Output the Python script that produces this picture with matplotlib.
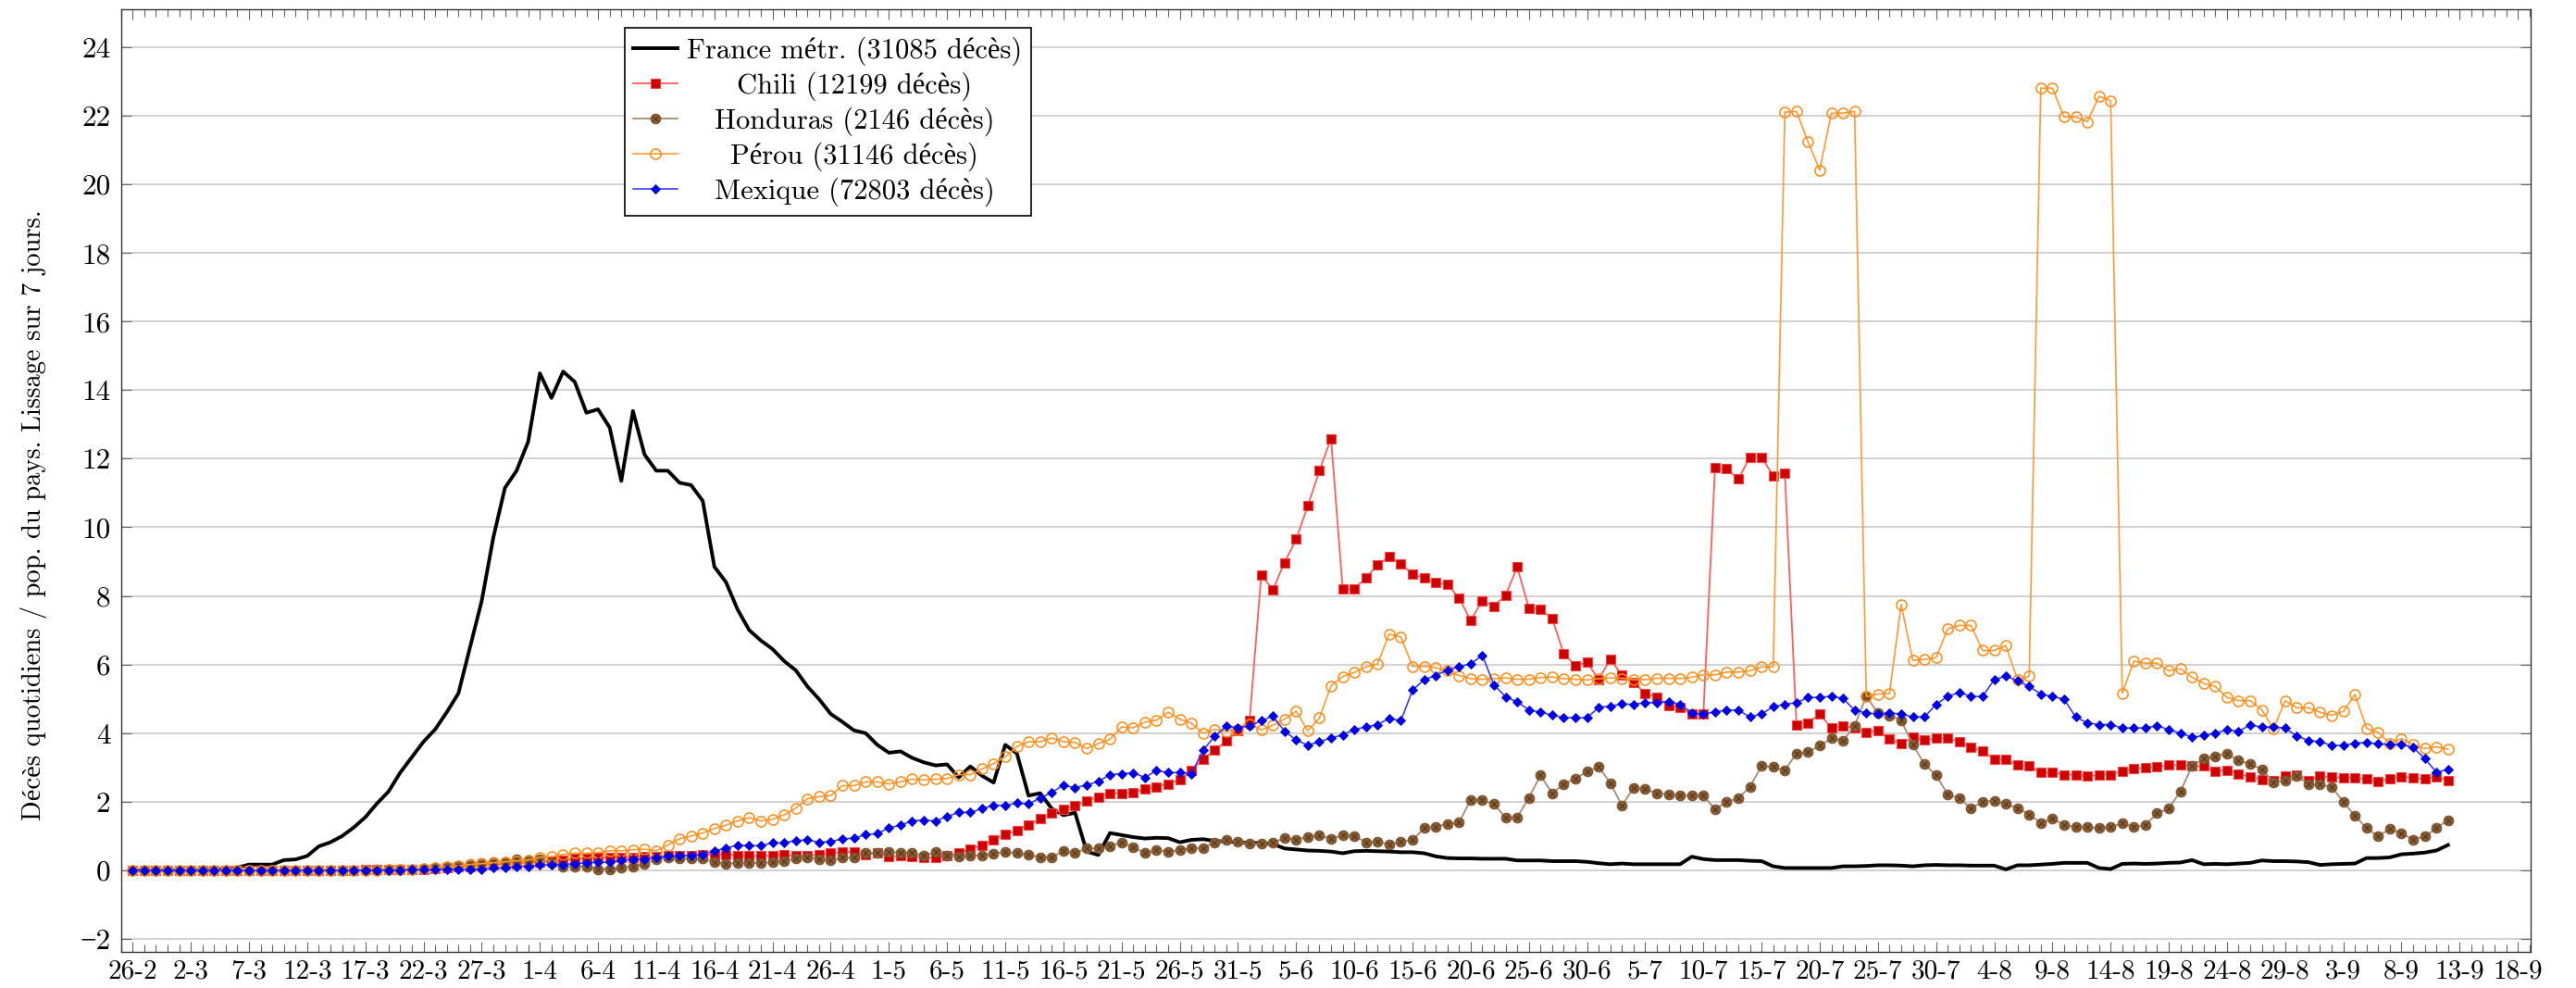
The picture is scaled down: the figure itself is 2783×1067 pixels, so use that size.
import numpy as np
import matplotlib
matplotlib.use("Agg")
import matplotlib.pyplot as plt
from matplotlib.ticker import MultipleLocator
from matplotlib.legend_handler import HandlerTuple

plt.rcParams['font.family'] = ['cmr10', 'Liberation Serif', 'DejaVu Serif']
plt.rcParams['axes.unicode_minus'] = True

# ---------------- data (one value per day, from 26-2) ----------------
france = [0, 0, 0, 0, 0, 0, 0.01, 0.02, 0.03, 0.08,
          0.17, 0.17, 0.17, 0.3, 0.32, 0.42, 0.7, 0.82, 1.0, 1.25,
          1.55, 1.95, 2.3, 2.85, 3.3, 3.75, 4.11, 4.61, 5.16, 6.5,
          7.85, 9.7, 11.15, 11.65, 12.5, 14.49, 13.77, 14.54, 14.24, 13.34,
          13.44, 12.91, 11.35, 13.39, 12.12, 11.65, 11.65, 11.3, 11.23, 10.77,
          8.85, 8.4, 7.6, 7.0, 6.7, 6.45, 6.1, 5.83, 5.36, 4.99,
          4.56, 4.33, 4.08, 4.0, 3.66, 3.43, 3.47, 3.28, 3.15, 3.06,
          3.09, 2.71, 3.03, 2.76, 2.56, 3.66, 3.41, 2.18, 2.25, 1.8,
          1.61, 1.68, 0.55, 0.45, 1.09, 1.03, 0.97, 0.93, 0.95, 0.94,
          0.82, 0.89, 0.91, 0.86, 0.84, 0.83, 0.8, 0.8, 0.77, 0.64,
          0.61, 0.58, 0.57, 0.55, 0.5, 0.56, 0.57, 0.56, 0.55, 0.53,
          0.53, 0.5, 0.41, 0.36, 0.35, 0.35, 0.34, 0.34, 0.34, 0.29,
          0.29, 0.29, 0.27, 0.27, 0.27, 0.25, 0.21, 0.18, 0.2, 0.18,
          0.18, 0.18, 0.18, 0.18, 0.4, 0.33, 0.3, 0.3, 0.3, 0.28,
          0.27, 0.12, 0.07, 0.07, 0.07, 0.07, 0.07, 0.12, 0.12, 0.13,
          0.15, 0.15, 0.14, 0.12, 0.15, 0.16, 0.15, 0.15, 0.14, 0.14,
          0.14, 0.03, 0.15, 0.15, 0.17, 0.19, 0.22, 0.22, 0.22, 0.07,
          0.04, 0.19, 0.2, 0.19, 0.2, 0.22, 0.23, 0.3, 0.18, 0.19,
          0.18, 0.2, 0.22, 0.29, 0.27, 0.27, 0.26, 0.24, 0.16, 0.18,
          0.19, 0.2, 0.36, 0.36, 0.38, 0.47, 0.49, 0.52, 0.58, 0.74]

chili = [0, 0, 0, 0, 0, 0, 0, 0, 0, 0,
         0, 0, 0, 0, 0, 0, 0, 0, 0.01, 0.01,
         0.02, 0.02, 0.02, 0.03, 0.03, 0.04, 0.05, 0.07, 0.1, 0.12,
         0.14, 0.16, 0.18, 0.2, 0.22, 0.25, 0.28, 0.3, 0.35, 0.35,
         0.37, 0.37, 0.38, 0.38, 0.4, 0.4, 0.42, 0.42, 0.44, 0.45,
         0.47, 0.47, 0.44, 0.42, 0.42, 0.44, 0.46, 0.42, 0.44, 0.46,
         0.5, 0.54, 0.54, 0.47, 0.5, 0.4, 0.42, 0.4, 0.37, 0.37,
         0.44, 0.5, 0.62, 0.74, 0.9, 1.04, 1.17, 1.32, 1.5, 1.66,
         1.77, 1.89, 2.03, 2.14, 2.25, 2.25, 2.26, 2.38, 2.44, 2.52,
         2.64, 2.91, 3.25, 3.5, 3.77, 4.07, 4.38, 8.61, 8.18, 8.97,
         9.65, 10.62, 11.65, 12.59, 8.21, 8.21, 8.52, 8.91, 9.14, 8.93,
         8.64, 8.52, 8.38, 8.34, 7.94, 7.29, 7.86, 7.7, 8.02, 8.84,
         7.65, 7.61, 7.35, 6.32, 5.97, 6.06, 5.57, 6.15, 5.7, 5.48,
         5.16, 5.04, 4.81, 4.74, 4.56, 4.56, 11.73, 11.7, 11.41, 12.04,
         12.04, 11.51, 11.59, 4.25, 4.3, 4.56, 4.15, 4.22, 4.15, 4.03,
         4.07, 3.82, 3.7, 3.88, 3.8, 3.85, 3.85, 3.75, 3.59, 3.48,
         3.23, 3.23, 3.07, 3.04, 2.86, 2.86, 2.79, 2.79, 2.74, 2.79,
         2.79, 2.89, 2.96, 2.99, 3.01, 3.07, 3.07, 3.04, 3.04, 2.89,
         2.92, 2.81, 2.72, 2.65, 2.63, 2.74, 2.79, 2.63, 2.74, 2.72,
         2.7, 2.7, 2.67, 2.58, 2.68, 2.72, 2.7, 2.67, 2.72, 2.63]

honduras = [0, 0, 0, 0, 0, 0, 0, 0, 0, 0,
            0, 0, 0, 0, 0, 0, 0, 0, 0, 0,
            0.01, 0.02, 0.02, 0.03, 0.04, 0.05, 0.08, 0.12, 0.14, 0.18,
            0.22, 0.24, 0.24, 0.32, 0.29, 0.32, 0.22, 0.12, 0.12, 0.12,
            0.04, 0.04, 0.07, 0.12, 0.19, 0.32, 0.39, 0.36, 0.34, 0.34,
            0.24, 0.2, 0.22, 0.22, 0.22, 0.24, 0.27, 0.34, 0.39, 0.32,
            0.29, 0.37, 0.37, 0.5, 0.52, 0.54, 0.52, 0.5, 0.42, 0.54,
            0.44, 0.4, 0.44, 0.44, 0.49, 0.54, 0.5, 0.45, 0.39, 0.38,
            0.57, 0.5, 0.64, 0.64, 0.71, 0.82, 0.68, 0.5, 0.59, 0.55,
            0.59, 0.64, 0.66, 0.82, 0.88, 0.84, 0.79, 0.77, 0.8, 0.95,
            0.89, 0.98, 1.02, 0.93, 1.02, 1.0, 0.82, 0.84, 0.75, 0.84,
            0.88, 1.23, 1.27, 1.36, 1.39, 2.06, 2.05, 1.94, 1.53, 1.55,
            2.11, 2.77, 2.25, 2.52, 2.68, 2.88, 3.02, 2.55, 1.89, 2.41,
            2.37, 2.25, 2.22, 2.18, 2.18, 2.18, 1.78, 2.0, 2.1, 2.44,
            3.04, 3.01, 2.92, 3.41, 3.45, 3.63, 3.85, 3.78, 4.22, 5.07,
            4.59, 4.52, 4.37, 3.66, 3.1, 2.77, 2.22, 2.1, 1.81, 2.0,
            2.03, 1.93, 1.82, 1.63, 1.38, 1.51, 1.33, 1.26, 1.26, 1.23,
            1.26, 1.38, 1.26, 1.33, 1.66, 1.81, 2.3, 3.04, 3.26, 3.33,
            3.41, 3.2, 3.1, 2.95, 2.56, 2.63, 2.74, 2.52, 2.5, 2.43,
            2.0, 1.59, 1.23, 0.99, 1.21, 1.08, 0.9, 0.99, 1.23, 1.47]

perou = [0, 0, 0, 0, 0, 0, 0, 0, 0, 0,
         0, 0, 0, 0, 0, 0, 0, 0, 0, 0,
         0.01, 0.01, 0.02, 0.03, 0.04, 0.05, 0.08, 0.1, 0.13, 0.17,
         0.2, 0.22, 0.25, 0.28, 0.3, 0.38, 0.4, 0.47, 0.5, 0.5,
         0.52, 0.57, 0.57, 0.6, 0.62, 0.57, 0.74, 0.92, 1.0, 1.09,
         1.22, 1.32, 1.44, 1.54, 1.44, 1.49, 1.62, 1.82, 2.09, 2.15,
         2.18, 2.47, 2.47, 2.58, 2.58, 2.52, 2.58, 2.66, 2.64, 2.66,
         2.68, 2.79, 2.79, 2.96, 3.11, 3.31, 3.61, 3.75, 3.75, 3.86,
         3.75, 3.73, 3.55, 3.7, 3.82, 4.18, 4.16, 4.32, 4.38, 4.61,
         4.41, 4.29, 4.0, 4.11, 4.05, 4.09, 4.27, 4.09, 4.23, 4.41,
         4.64, 4.07, 4.44, 5.38, 5.65, 5.77, 5.93, 6.02, 6.89, 6.8,
         5.95, 5.95, 5.91, 5.82, 5.68, 5.59, 5.57, 5.59, 5.61, 5.57,
         5.57, 5.62, 5.64, 5.59, 5.57, 5.55, 5.59, 5.61, 5.6, 5.56,
         5.56, 5.6, 5.6, 5.59, 5.63, 5.7, 5.7, 5.78, 5.78, 5.82,
         5.93, 5.93, 22.1, 22.12, 21.23, 20.41, 22.07, 22.07, 22.12, 5.07,
         5.14, 5.16, 7.75, 6.12, 6.15, 6.2, 7.04, 7.14, 7.14, 6.41,
         6.41, 6.55, 5.56, 5.66, 22.8, 22.8, 21.96, 21.96, 21.82, 22.56,
         22.44, 5.16, 6.1, 6.04, 6.04, 5.82, 5.88, 5.63, 5.45, 5.36,
         5.04, 4.95, 4.95, 4.68, 4.12, 4.95, 4.74, 4.74, 4.61, 4.52,
         4.63, 5.13, 4.14, 4.02, 3.71, 3.84, 3.67, 3.55, 3.6, 3.53]

mexique = [0, 0, 0, 0, 0, 0, 0, 0, 0, 0,
           0, 0, 0, 0, 0, 0, 0, 0, 0, 0,
           0.01, 0.01, 0.01, 0.01, 0.02, 0.02, 0.02, 0.03, 0.03, 0.03,
           0.04, 0.07, 0.07, 0.12, 0.12, 0.15, 0.17, 0.17, 0.2, 0.22,
           0.24, 0.24, 0.3, 0.32, 0.32, 0.37, 0.42, 0.42, 0.44, 0.47,
           0.57, 0.65, 0.74, 0.72, 0.72, 0.8, 0.8, 0.87, 0.89, 0.82,
           0.84, 0.92, 0.94, 1.04, 1.07, 1.24, 1.32, 1.44, 1.47, 1.44,
           1.57, 1.69, 1.69, 1.8, 1.9, 1.9, 1.96, 1.94, 2.11, 2.27,
           2.49, 2.41, 2.49, 2.59, 2.79, 2.82, 2.84, 2.71, 2.91, 2.85,
           2.85, 2.82, 3.5, 3.91, 4.2, 4.16, 4.21, 4.36, 4.5, 4.06,
           3.8, 3.65, 3.75, 3.86, 3.95, 4.11, 4.18, 4.25, 4.43, 4.36,
           5.25, 5.56, 5.68, 5.84, 5.94, 6.02, 6.27, 5.41, 5.06, 4.91,
           4.68, 4.61, 4.53, 4.45, 4.45, 4.45, 4.75, 4.79, 4.85, 4.84,
           4.89, 4.89, 4.92, 4.84, 4.59, 4.56, 4.62, 4.67, 4.67, 4.47,
           4.56, 4.77, 4.84, 4.89, 5.04, 5.04, 5.08, 5.01, 4.67, 4.59,
           4.56, 4.59, 4.56, 4.47, 4.47, 4.84, 5.07, 5.19, 5.07, 5.07,
           5.56, 5.66, 5.53, 5.36, 5.14, 5.07, 4.99, 4.47, 4.3, 4.25,
           4.25, 4.15, 4.15, 4.15, 4.22, 4.1, 4.0, 3.88, 3.93, 4.0,
           4.1, 4.05, 4.24, 4.18, 4.18, 4.15, 3.91, 3.79, 3.75, 3.64,
           3.64, 3.71, 3.73, 3.69, 3.67, 3.67, 3.58, 3.26, 2.86, 2.94]

tick_labels = ["26-2", "2-3", "7-3", "12-3", "17-3", "22-3", "27-3", "1-4", "6-4",
               "11-4", "16-4", "21-4", "26-4", "1-5", "6-5", "11-5", "16-5", "21-5",
               "26-5", "31-5", "5-6", "10-6", "15-6", "20-6", "25-6", "30-6", "5-7",
               "10-7", "15-7", "20-7", "25-7", "30-7", "4-8", "9-8", "14-8", "19-8",
               "24-8", "29-8", "3-9", "8-9", "13-9", "18-9"]
y_ticks = [-2, 0, 2, 4, 6, 8, 10, 12, 14, 16, 18, 20, 22, 24]

labels = ["France métr. (31085 décès)", "Chili (12199 décès)",
          "Honduras (2146 décès)", "Pérou (31146 décès)", "Mexique (72803 décès)"]

# ---------------- figure ----------------
W, H = 2783, 1067
fig = plt.figure(figsize=(W / 100, H / 100), dpi=100)
left, right, top, bottom = 130.7 / W, 2734 / W, 1 - 9.6 / H, 1 - 1028 / H
ax = fig.add_axes([left, bottom, right - left, top - bottom])

days = np.arange(len(france))

l_fr, = ax.plot(days, france, color='black', lw=2.8, zorder=3)
l_ch, = ax.plot(days, chili, color='#ff5c5c', lw=1.3, marker='s', ms=7.2,
                mfc='#cc0000', mec='#ff4040', mew=0.8, zorder=4)
l_ho, = ax.plot(days, honduras, color='#a88b6e', lw=1.3, marker='o', ms=7.6,
                mfc='#8b5e34', mec='#7a5230', mew=0.8, zorder=5)
l_hox, = ax.plot(days, honduras, ls='none', marker='x', ms=4.6,
                 mec='#5a3a1c', mew=0.9, zorder=5.1)
l_pe, = ax.plot(days, perou, color='#ff9a33', lw=1.2, marker='o', ms=8.0,
                mfc='none', mec='#ff8a14', mew=1.1, zorder=6)
l_me, = ax.plot(days, mexique, color='#2b2bff', lw=1.1, marker='D', ms=5.6,
                mfc='#0000e6', mec='#0000e6', mew=0.6, zorder=7)

ax.set_xlim(-1.0, 206.1)
ax.set_ylim(-2.375, 25.11)

ax.set_xticks(np.arange(0, 5 * len(tick_labels), 5))
ax.set_xticklabels(tick_labels, fontsize=21)
ax.xaxis.set_minor_locator(MultipleLocator(1))
ax.set_yticks(y_ticks)
ax.set_yticklabels([str(v).replace('-', '\u2212') for v in y_ticks], fontsize=22.5)

ax.tick_params(which='both', direction='in', top=True, right=True,
               color='#666666', width=0.8)
ax.tick_params(which='major', length=8)
ax.tick_params(which='minor', length=6)
ax.tick_params(axis='x', which='major', pad=6)
ax.tick_params(axis='y', which='major', pad=8)

ax.yaxis.grid(True, color='#c8c8c8', lw=1.2)
ax.set_axisbelow(True)
for s in ax.spines.values():
    s.set_color('#333333')
    s.set_linewidth(1.0)

ax.set_ylabel("Décès quotidiens / pop. du pays. Lissage sur 7 jours.", fontsize=20.5)
ax.yaxis.set_label_coords(-0.0305, 0.4635)

leg = ax.legend([l_fr, l_ch, (l_ho, l_hox), l_pe, l_me], labels,
                handler_map={tuple: HandlerTuple(ndivide=1)},
                loc='upper left', bbox_to_anchor=(0.2091, 0.98), borderaxespad=0,
                fontsize=22, frameon=True, fancybox=False, framealpha=1,
                edgecolor='black', handlelength=1.55, handletextpad=0.35,
                labelspacing=0.22, borderpad=0.3)
leg.get_frame().set_linewidth(1.2)
leg.set_zorder(20)

# centre the legend texts like the original
fig.canvas.draw()
r = fig.canvas.get_renderer()
texts = leg.get_texts()
ws = [t.get_window_extent(r).width for t in texts]
mw = max(ws)
for t, w in zip(texts, ws):
    t.set_position(((mw - w) / 2, 0))

fig.savefig('out.png', dpi=100)
